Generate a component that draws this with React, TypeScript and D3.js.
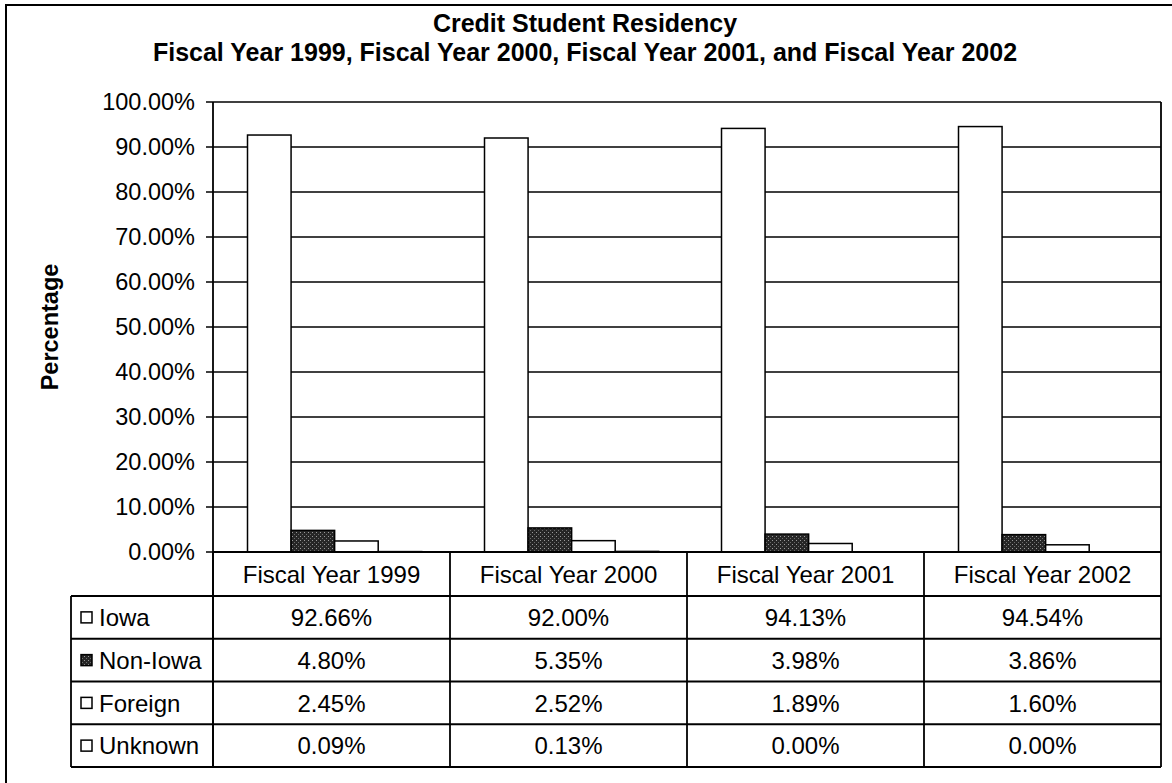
import React from "react";
import * as d3 from "d3";

const categories = ["Fiscal Year 1999", "Fiscal Year 2000", "Fiscal Year 2001", "Fiscal Year 2002"];
const seriesNames = ["Iowa", "Non-Iowa", "Foreign", "Unknown"];
const iowa = [92.66, 92.0, 94.13, 94.54];
const nonIowa = [4.8, 5.35, 3.98, 3.86];
const foreign = [2.45, 2.52, 1.89, 1.6];
const unknown = [0.09, 0.13, 0.0, 0.0];
const yTicks = [0, 10, 20, 30, 40, 50, 60, 70, 80, 90, 100];
const titleLines = [
  "Credit Student Residency",
  "Fiscal Year 1999, Fiscal Year 2000, Fiscal Year 2001, and Fiscal Year 2002",
];
const yTitle = "Percentage";

const seriesValues = [iowa, nonIowa, foreign, unknown];
const seriesFill = ["#ffffff", "url(#stipple)", "#ffffff", "#ffffff"];

export default function App() {
  const W = 1172;
  const H = 783;
  const left = 213;
  const right = 1161;
  const top = 102;
  const bottom = 552;
  const tableLeft = 71;
  const headerBottom = 596;
  const tableBottom = 767;
  const font = "Arial, 'Liberation Sans', sans-serif";

  const x = d3.scaleBand<string>().domain(categories).range([left, right]).padding(0);
  const xs = d3
    .scaleBand<string>()
    .domain(seriesNames)
    .range([0, x.bandwidth()])
    .paddingInner(0)
    .paddingOuter(0.72)
    .align(0.55);
  const y = d3.scaleLinear().domain([0, 100]).range([bottom, top]);
  const rowY = d3
    .scaleBand<string>()
    .domain(seriesNames)
    .range([headerBottom, tableBottom])
    .padding(0);

  const fmt = (v: number) => v.toFixed(2) + "%";

  return (
    <svg width={W} height={H} style={{ display: "block", position: "absolute", left: 0, top: 0 }}>
      <defs>
        <pattern id="stipple" width="4" height="4" patternUnits="userSpaceOnUse">
          <rect width="4" height="4" fill="#262626" />
          <rect x="0" y="0" width="1" height="1" fill="#9a9a9a" />
          <rect x="2" y="2" width="1" height="1" fill="#6a6a6a" />
        </pattern>
      </defs>
      <rect x={0} y={0} width={W} height={H} fill="#fff" />
      {/* outer frame (top/left visible) */}
      <path d={`M6,${H} L6,5 L${W},5`} fill="none" stroke="#000" strokeWidth={2} />

      {/* titles */}
      <text x={585} y={32} textAnchor="middle" fontFamily={font} fontWeight="bold" fontSize={25}>
        {titleLines[0]}
      </text>
      <text x={585} y={61} textAnchor="middle" fontFamily={font} fontWeight="bold" fontSize={25}>
        {titleLines[1]}
      </text>

      {/* gridlines + ticks */}
      {yTicks.map((t) => (
        <g key={t}>
          <line x1={left - 7} x2={right} y1={y(t)} y2={y(t)} stroke="#000" strokeWidth={1.6} />
          <text
            x={195}
            y={y(t)}
            dy="0.36em"
            textAnchor="end"
            fontFamily={font}
            fontSize={23.5}
          >
            {fmt(t)}
          </text>
        </g>
      ))}
      {/* plot border vertical */}
      <line x1={left} x2={left} y1={top} y2={tableBottom} stroke="#000" strokeWidth={1.8} />
      <line x1={right} x2={right} y1={top} y2={tableBottom} stroke="#000" strokeWidth={1.8} />

      {/* y title */}
      <text
        transform={`translate(50,${(top + bottom) / 2}) rotate(-90)`}
        textAnchor="middle"
        dy="0.35em"
        fontFamily={font}
        fontWeight="bold"
        fontSize={23.5}
      >
        {yTitle}
      </text>

      {/* bars */}
      {categories.map((c, ci) => (
        <g key={c}>
          {seriesNames.map((s, si) => {
            const v = seriesValues[si][ci];
            const bx = (x(c) as number) + (xs(s) as number);
            const h = bottom - y(v);
            if (v <= 0) return null;
            return (
              <rect
                key={s}
                x={bx}
                y={y(v)}
                width={xs.bandwidth()}
                height={h}
                fill={seriesFill[si]}
                stroke="#000"
                strokeWidth={1.5}
              />
            );
          })}
        </g>
      ))}

      {/* data table */}
      {categories.map((c) => (
        <line
          key={c}
          x1={x(c) as number}
          x2={x(c) as number}
          y1={bottom}
          y2={tableBottom}
          stroke="#000"
          strokeWidth={1.8}
        />
      ))}
      <line x1={left} x2={right} y1={bottom} y2={bottom} stroke="#000" strokeWidth={1.8} />
      {seriesNames.map((s) => (
        <line
          key={s}
          x1={tableLeft}
          x2={right}
          y1={rowY(s) as number}
          y2={rowY(s) as number}
          stroke="#000"
          strokeWidth={1.8}
        />
      ))}
      <line x1={tableLeft} x2={right} y1={tableBottom} y2={tableBottom} stroke="#000" strokeWidth={2} />
      <line x1={tableLeft} x2={tableLeft} y1={headerBottom} y2={tableBottom} stroke="#000" strokeWidth={1.8} />

      {categories.map((c) => (
        <text
          key={c}
          x={(x(c) as number) + x.bandwidth() / 2}
          y={(bottom + headerBottom) / 2}
          dy="0.36em"
          textAnchor="middle"
          fontFamily={font}
          fontSize={24}
        >
          {c}
        </text>
      ))}
      {seriesNames.map((s, si) => {
        const cy = (rowY(s) as number) + rowY.bandwidth() / 2;
        return (
          <g key={s}>
            <rect
              x={81}
              y={cy - 5.5}
              width={11}
              height={11}
              fill={seriesFill[si]}
              stroke="#000"
              strokeWidth={1.5}
            />
            <text x={99} y={cy} dy="0.36em" fontFamily={font} fontSize={24}>
              {s}
            </text>
            {categories.map((c, ci) => (
              <text
                key={c}
                x={(x(c) as number) + x.bandwidth() / 2}
                y={cy}
                dy="0.36em"
                textAnchor="middle"
                fontFamily={font}
                fontSize={24}
              >
                {fmt(seriesValues[si][ci])}
              </text>
            ))}
          </g>
        );
      })}
    </svg>
  );
}
